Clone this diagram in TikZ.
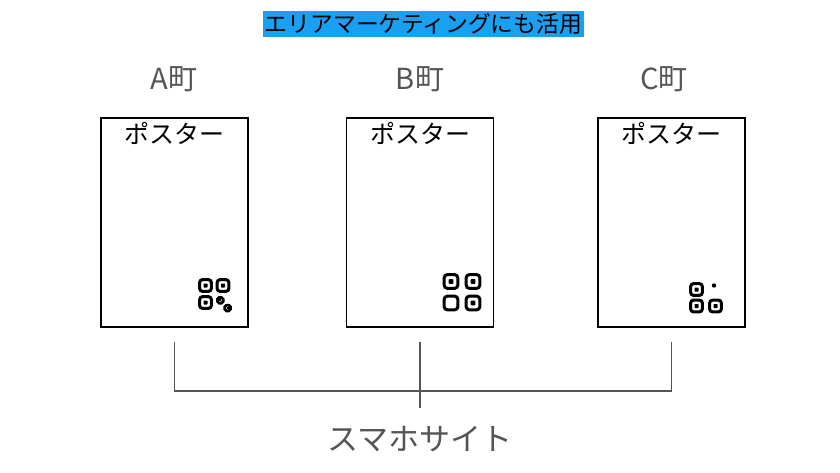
\documentclass[tikz,border=0pt]{standalone}
\usepackage{fontspec}
\setmainfont{Noto Sans CJK JP}
\usetikzlibrary{positioning}
\definecolor{titleblue}{HTML}{1AA0F2}
\definecolor{labelgray}{HTML}{555555}

\begin{document}
\begin{tikzpicture}[x=1pt,y=-1pt,
  title/.style={fill=titleblue,inner sep=0pt,minimum width=321pt,minimum height=26pt,font=\fontsize{22.8}{22.8}\selectfont},
  town/.style={text=labelgray,font=\fontsize{29}{29}\selectfont},
  poster/.style={draw,line width=1.4pt,minimum width=147pt,minimum height=209pt,inner sep=0pt},
  caption/.style={font=\fontsize{25}{25}\selectfont},
  site/.style={text=labelgray,font=\fontsize{31}{31}\selectfont},
  bracket/.style={draw=labelgray,line width=1.8pt},
  qr cell/.pic={\draw[line width=3pt,rounded corners=3pt] (-5.9,-5.9) rectangle (5.9,5.9);
    \fill[rounded corners=0.6pt] (-2,-2) rectangle (2,2);},
  qr frame/.pic={\draw[line width=3pt,rounded corners=3pt] (-5.9,-5.9) rectangle (5.9,5.9);},
  qr bit/.pic={\draw[line width=2.7pt,rounded corners=1.8pt] (-2.9,-2.9) rectangle (2.9,2.9);
    \fill (-0.9,-0.9) rectangle (0.9,0.9);}]
  \useasboundingbox (0,0) rectangle (840,473);

  \node[title] (head) at (423.5,24) {エリアマーケティングにも活用};

  \node[town] (tA) at (174,79) {A町};
  \node[town] (tB) at (420,79) {B町};
  \node[town] (tC) at (664,79) {C町};

  \node[poster] (pA) at (174.5,222.5) {};
  \node[poster] (pB) at (420,222.5) {};
  \node[poster] (pC) at (671.5,222.5) {};
  \foreach \p in {pA,pB,pC}
    \node[caption] at ([yshift=-16pt]\p.north) {ポスター};

  % QR marks
  \pic at (205.5,285.5) {qr cell};
  \pic at (223,285.5) {qr cell};
  \pic at (205.5,302.5) {qr cell};
  \pic at (220.3,300.3) {qr bit};
  \pic at (227.6,308) {qr bit};

  \pic[scale=1.15] at (451,281.5) {qr cell};
  \pic[scale=1.15] at (473,281.5) {qr cell};
  \pic[scale=1.15] at (451,303) {qr frame};
  \pic[scale=1.15] at (473,303) {qr cell};

  \pic at (696.5,289.5) {qr cell};
  \pic at (696.5,306) {qr cell};
  \pic at (715.5,306) {qr cell};
  \fill (714,285.5) circle (2.2pt);

  % bracket
  \coordinate (aTop) at ([yshift=-14pt]pA.south);
  \coordinate (aFoot) at ([yshift=-63pt]pA.south);
  \coordinate (bTop) at ([yshift=-14pt]pB.south);
  \coordinate (bFoot) at ([yshift=-80pt]pB.south);
  \coordinate (cTop) at ([yshift=-14pt]pC.south);
  \coordinate (cFoot) at ([yshift=-63pt]pC.south);
  \draw[bracket] (aTop) -- (aFoot) -- (cFoot) -- (cTop);
  \draw[bracket] (bTop) -- (bFoot);

  \node[site] (sp) at (420,439) {スマホサイト};
\end{tikzpicture}
\end{document}
